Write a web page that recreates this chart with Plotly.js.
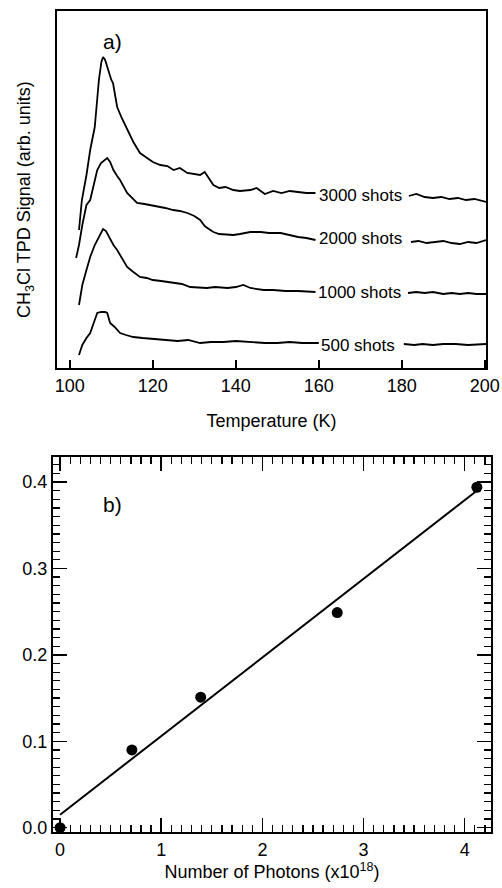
<!DOCTYPE html>
<html>
<head>
<meta charset="utf-8">
<script src="https://cdn.plot.ly/plotly-3.0.1.min.js"></script>
<style>html,body{margin:0;padding:0;background:#fff;}#plot{width:502px;height:888px;}</style>
</head>
<body>
<div id="plot"></div>
<script>
// ---- Panel a) TPD traces (temperature in K, signal in arb. units, offsets as drawn) ----
const t3000 = [102.2,102.9,104.0,104.9,106.0,107.0,107.6,108.0,108.5,109.2,110.0,110.4,111.4,112.5,113.8,115.3,116.9,118.5,120.0,121.8,123.5,125.0,126.5,128.3,130.0,131.4,132.5,133.5,134.6,136.0,137.5,139.4,141.0,143.5,145.0,147.0,149.0,151.0,153.0,155.0,157.0,159.2,null,181.7,183.5,185.5,187.5,189.5,191.5,193.5,195.5,197.5,200.3];
const s3000 = [130,160,185,210,233,280,298,303,300,290,280,277,253,242,230,218,207,202,198,195,194,190,192,187,186,185,188,182,175,172,173,170,169,170,172,166,169,167,169,168,167,167,null,164,166,163,162,163,161,162,160,161,158];

const t2000 = [101.5,102.2,103.0,104.0,104.9,106.0,106.6,107.5,108.3,109.0,109.7,110.5,111.4,112.1,113.8,115.0,116.2,118.0,119.4,121.5,123.0,124.9,126.5,128.3,130.0,131.4,132.5,133.5,134.6,136.0,138.0,139.4,141.0,143.5,146.0,148.0,150.8,153.0,155.0,157.0,159.2,null,182.2,184.0,186.0,188.0,190.0,192.0,194.0,196.0,198.0,200.3];
const s2000 = [102,115,135,155,160,180,190,197,200,202,198,190,184,180,167,162,157,156,155,153,152,150,149,147,144,140,134,131,128,126,125,125,126,128,128,127,127,125,123,122,120,null,118,119,117,118,119,117,116,118,117,120];

const t1000 = [102.2,103.0,104.0,104.9,106.0,107.0,108.0,108.7,109.5,110.5,111.4,112.5,113.8,115.3,116.9,118.5,120.0,122.0,124.9,127.0,129.0,131.4,133.0,135.0,138.0,140.0,141.8,143.5,146.7,149.0,152.0,155.0,157.5,159.2,null,181.5,183.5,185.5,187.5,190.0,192.0,194.0,196.0,198.0,200.3];
const s1000 = [55,75,90,103,115,123,131,129,122,115,110,102,93,88,83,82,80,79,77,76,73,72,72,73,72,73,75,72,70,70,69,69,68,68,null,67,68,67,68,66,67,66,67,66,66];

const t500 = [102.2,103.0,104.0,104.9,106.0,106.6,107.5,108.5,109.0,109.7,110.8,112.1,113.5,115.3,117.5,120.0,123.5,126.0,128.5,131.4,134.0,137.0,140.0,143.5,147.0,150.0,153.0,156.0,159.0,160.0,null,180.5,183.0,185.0,187.5,190.0,193.0,196.0,200.3];
const s500 = [5,15,22,27,40,47,48,48,47,37,33,27,25,23,22,21,20,19,20,17,18,18,19,18,17,17,18,17,17,17,null,16,15,16,15,16,16,15,16];

const traceLabels = ["3000 shots","2000 shots","1000 shots","500 shots"];
const labelT = [170.1, 170.1, 169.8, 169.5];
const labelS = [165, 122, 68, 15];
const tempTicks = [100,120,140,160,180,200];

// ---- Panel b) yield vs number of photons ----
const photons = [0.0, 0.71, 1.39, 2.74, 4.12];
const yieldVals = [0.000, 0.090, 0.151, 0.249, 0.394];
const fitX = [0.0, 4.12];
const fitY = [0.015, 0.390];

const FONT = "Arial, 'Liberation Sans', Helvetica, sans-serif";
const lineStyle = {color:'#000', width:1.8, shape:'linear'};

const data = [
  {x:t3000, y:s3000, xaxis:'x', yaxis:'y', mode:'lines', line:lineStyle, connectgaps:false, hoverinfo:'skip'},
  {x:t2000, y:s2000, xaxis:'x', yaxis:'y', mode:'lines', line:lineStyle, connectgaps:false, hoverinfo:'skip'},
  {x:t1000, y:s1000, xaxis:'x', yaxis:'y', mode:'lines', line:lineStyle, connectgaps:false, hoverinfo:'skip'},
  {x:t500, y:s500, xaxis:'x', yaxis:'y', mode:'lines', line:lineStyle, connectgaps:false, hoverinfo:'skip'},
  {x:fitX, y:fitY, xaxis:'x2', yaxis:'y2', mode:'lines', line:{color:'#000', width:2}, hoverinfo:'skip'},
  {x:photons, y:yieldVals, xaxis:'x2', yaxis:'y2', mode:'markers', marker:{color:'#000', size:11}, cliponaxis:false, hoverinfo:'skip'}
];

const annotations = traceLabels.map((txt,i)=>({
  text:txt, x:labelT[i], y:labelS[i], xref:'x', yref:'y', showarrow:false,
  font:{family:FONT, size:17, color:'#000'}, xanchor:'center', yanchor:'middle'
}));
annotations.push({text:'a)', x:112/502, y:1-41/888, xref:'paper', yref:'paper', showarrow:false, font:{family:FONT,size:21,color:'#000'}, xanchor:'center', yanchor:'middle'});
annotations.push({text:'b)', x:112/502, y:1-504/888, xref:'paper', yref:'paper', showarrow:false, font:{family:FONT,size:21,color:'#000'}, xanchor:'center', yanchor:'middle'});
annotations.push({text:'CH<sub>3</sub>Cl TPD Signal (arb. units)', x:25/502, y:1-200/888, xref:'paper', yref:'paper', showarrow:false, textangle:-90, font:{family:FONT,size:18,color:'#000'}, xanchor:'center', yanchor:'middle'});

const layout = {
  width:502, height:888,
  margin:{l:0,r:0,t:0,b:0},
  paper_bgcolor:'#fff', plot_bgcolor:'#fff',
  showlegend:false,
  font:{family:FONT, size:18, color:'#000'},
  xaxis:{
    domain:[57/502, 486/502], anchor:'y', range:[96.9, 200.3],
    tickvals:tempTicks, ticks:'inside', ticklen:8, tickwidth:1.5, tickcolor:'#000',
    showline:true, linecolor:'#000', linewidth:2, mirror:true, showgrid:false, zeroline:false,
    tickfont:{family:FONT,size:18,color:'#000'},
    title:{text:'Temperature (K)', font:{family:FONT,size:18,color:'#000'}, standoff:20}
  },
  yaxis:{
    domain:[1-368/888, 1-11/888], anchor:'x', range:[-8, 349],
    showticklabels:false, ticks:'', showline:true, linecolor:'#000', linewidth:2, mirror:true,
    showgrid:false, zeroline:false
  },
  xaxis2:{
    domain:[53/502, 491/502], anchor:'y2', range:[-0.07, 4.26],
    tickvals:[0,1,2,3,4], ticks:'inside', ticklen:14, tickwidth:1.5, tickcolor:'#000',
    minor:{dtick:0.1, ticks:'inside', ticklen:7, tickwidth:1.3, tickcolor:'#000', showgrid:false},
    showline:true, linecolor:'#000', linewidth:2, mirror:'ticks', showgrid:false, zeroline:false,
    tickfont:{family:FONT,size:18,color:'#000'},
    title:{text:'Number of Photons (x10<sup>18</sup>)', font:{family:FONT,size:18,color:'#000'}, standoff:4}
  },
  yaxis2:{
    domain:[1-832/888, 1-457/888], anchor:'x2', range:[-0.005, 0.429],
    tickvals:[0,0.1,0.2,0.3,0.4], ticktext:['0.0','0.1','0.2','0.3','0.4'],
    ticks:'inside', ticklen:14, tickwidth:1.5, tickcolor:'#000',
    minor:{dtick:0.01, ticks:'inside', ticklen:7, tickwidth:1.3, tickcolor:'#000', showgrid:false},
    showline:true, linecolor:'#000', linewidth:2, mirror:'ticks', showgrid:false, zeroline:false,
    tickfont:{family:FONT,size:18,color:'#000'}
  },
  annotations:annotations
};

Plotly.newPlot('plot', data, layout, {displayModeBar:false, staticPlot:true});
</script>
</body>
</html>
